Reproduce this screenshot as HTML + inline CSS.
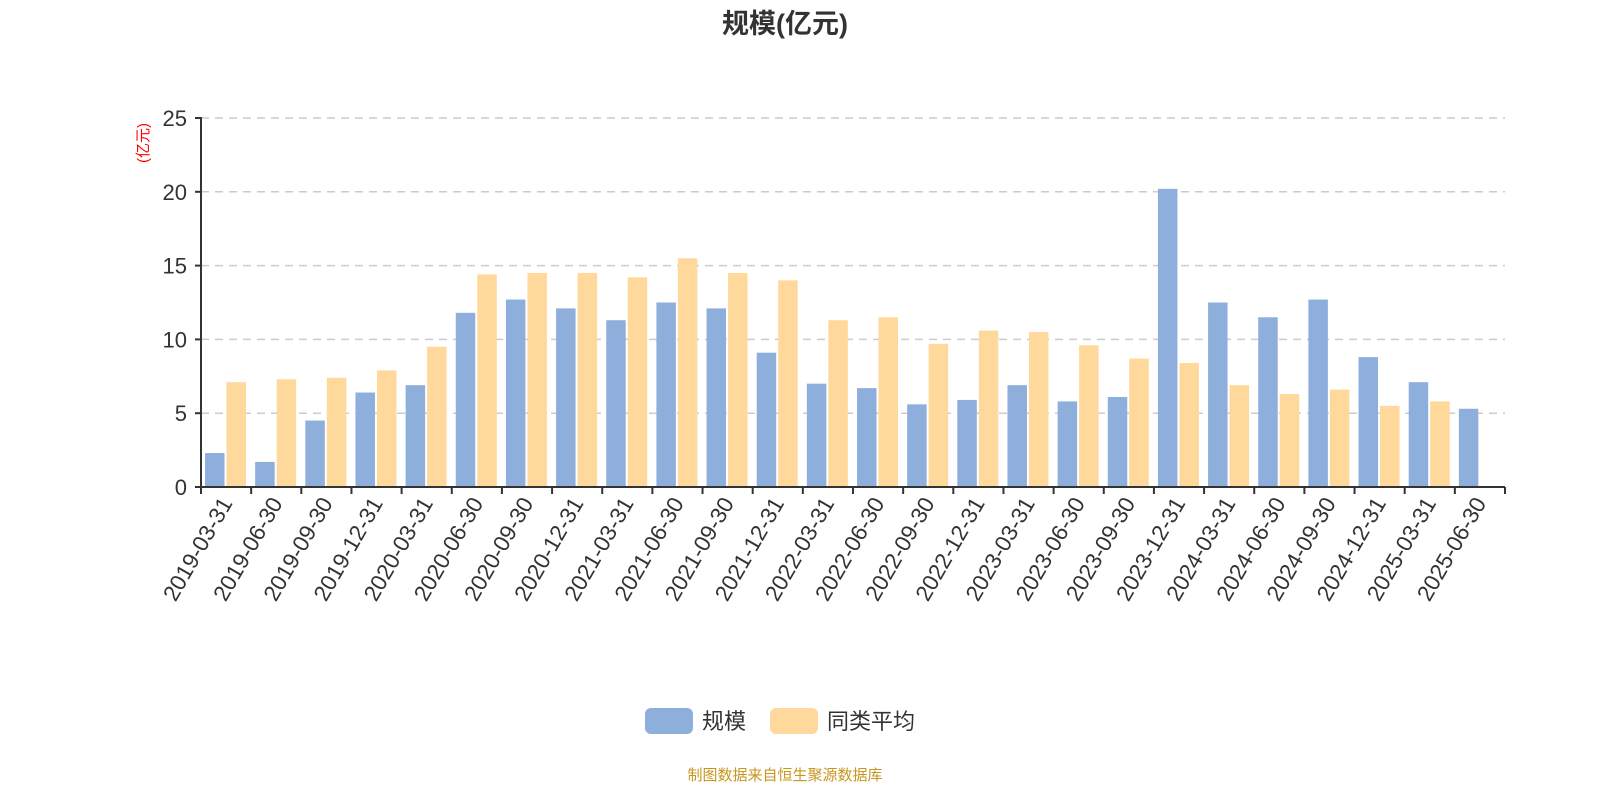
<!DOCTYPE html>
<html><head><meta charset="utf-8"><style>
html,body{margin:0;padding:0;background:#fff;}
svg{display:block;font-family:"Liberation Sans","Noto Sans CJK SC",sans-serif;}
</style></head><body>
<svg id="c" width="1600" height="800" xmlns="http://www.w3.org/2000/svg">
<text x="785" y="33" text-anchor="middle" font-size="27" font-weight="bold" fill="#333">规模(亿元)</text>
<text transform="translate(148,143) rotate(-90)" text-anchor="middle" font-size="15" fill="#f00">(亿元)</text>
<g id="g"></g>
<rect x="645" y="708" width="48" height="26" rx="6" fill="#8eaedc"/>
<text x="702" y="729" font-size="22" fill="#333">规模</text>
<rect x="770" y="708" width="48" height="26" rx="6" fill="#ffd99b"/>
<text x="827" y="729" font-size="22" fill="#333">同类平均</text>
<text x="785" y="780" text-anchor="middle" font-size="15" fill="#c8961e">制图数据来自恒生聚源数据库</text>
</svg>
<script>
var b=[2.3,1.7,4.5,6.4,6.9,11.8,12.7,12.1,11.3,12.5,12.1,9.1,7.0,6.7,5.6,5.9,6.9,5.8,6.1,20.2,12.5,11.5,12.7,8.8,7.1,5.3];
var y=[7.1,7.3,7.4,7.9,9.5,14.4,14.5,14.5,14.2,15.5,14.5,14.0,11.3,11.5,9.7,10.6,10.5,9.6,8.7,8.4,6.9,6.3,6.6,5.5,5.8,null];
var L=[];for(var yr=2019;yr<=2025;yr++){["03-31","06-30","09-30","12-31"].forEach(function(d){L.push(yr+"-"+d)});}L=L.slice(0,26);
var x0=201,x1=1505,y0=487,k=14.76,w=(x1-x0)/26,s="";
for(var i=0;i<=5;i++){var yy=y0-i*5*k;
 if(i>0)s+='<line x1="'+x0+'" x2="'+x1+'" y1="'+yy+'" y2="'+yy+'" stroke="#ccc" stroke-width="1.5" stroke-dasharray="8,6"/>';
 s+='<line x1="'+(x0-6)+'" x2="'+x0+'" y1="'+yy+'" y2="'+yy+'" stroke="#333" stroke-width="2"/>';
 s+='<text x="'+(x0-14)+'" y="'+(yy+8)+'" text-anchor="end" font-size="22" fill="#333">'+i*5+'</text>';}
for(var i=0;i<26;i++){var bx=x0+i*w;
 s+='<rect x="'+(bx+4)+'" y="'+(y0-b[i]*k)+'" width="19.5" height="'+b[i]*k+'" fill="#8eaedc"/>';
 if(y[i]!=null)s+='<rect x="'+(bx+25.5)+'" y="'+(y0-y[i]*k)+'" width="19.5" height="'+y[i]*k+'" fill="#ffd99b"/>';
 var cx=bx+w/2;
 s+='<text transform="translate('+(cx+7)+',503) rotate(-60)" text-anchor="end" font-size="22.5" fill="#333">'+L[i]+'</text>';}
for(var i=0;i<=26;i++){var tx=x0+i*w;s+='<line x1="'+tx+'" x2="'+tx+'" y1="'+y0+'" y2="'+(y0+7)+'" stroke="#333" stroke-width="2"/>';}
s+='<line x1="'+x0+'" x2="'+x0+'" y1="117" y2="'+y0+'" stroke="#333" stroke-width="2"/>';
s+='<line x1="'+x0+'" x2="'+x1+'" y1="'+y0+'" y2="'+y0+'" stroke="#333" stroke-width="2"/>';
document.getElementById("g").innerHTML=s;
</script>
</body></html>
